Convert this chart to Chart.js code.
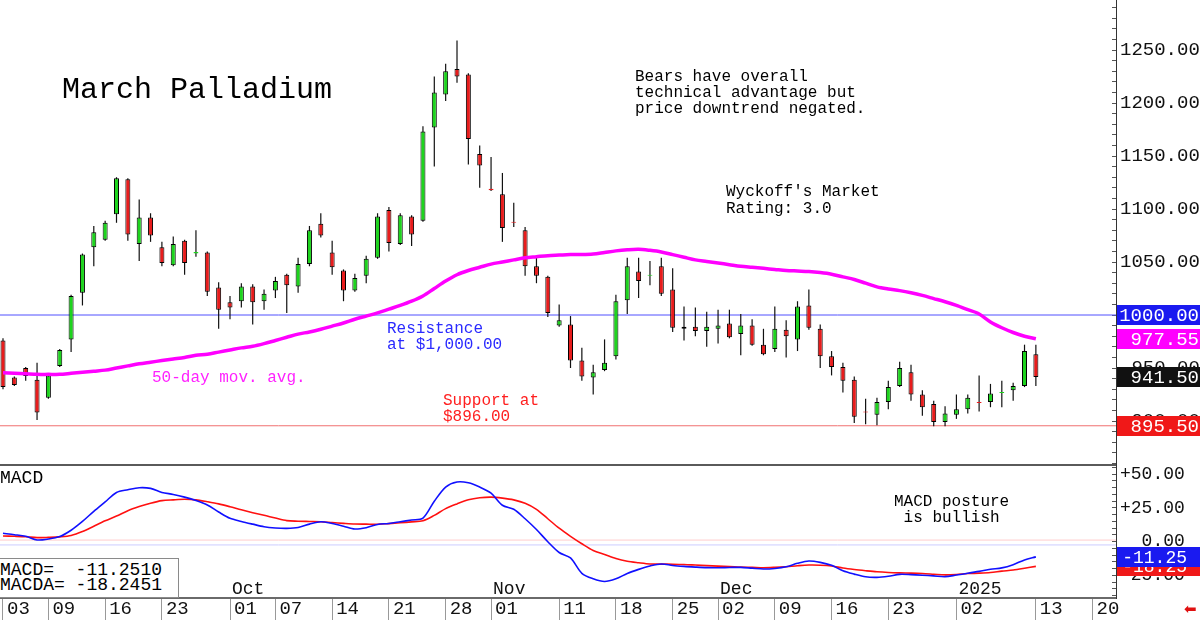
<!DOCTYPE html>
<html>
<head>
<meta charset="utf-8">
<title>March Palladium</title>
<script src="https://cdn.jsdelivr.net/npm/chart.js@4.4.1/dist/chart.umd.min.js"></script>
<style>
  html, body { margin: 0; padding: 0; background: #fff; }
  #wrap { position: relative; width: 1200px; height: 620px; overflow: hidden; font-family: "Liberation Mono", monospace; }
  #priceChart { position: absolute; left: 0; top: 0; }
  #macdChart { position: absolute; left: 0; top: 466px; }
  .txt { position: absolute; white-space: pre; font-size: 16px; line-height: 16.2px; color: #000; }
  #sep { position: absolute; left: 0; top: 464px; width: 1116px; height: 2px; background: #5a5a5a; }
  #macdBox { position: absolute; left: -1px; top: 558px; width: 180px; height: 40px; border: 1px solid #8a8a8a; background: #fff; box-sizing: border-box; }
  #arrow { position: absolute; left: 1184px; top: 600px; font-family: "DejaVu Sans", sans-serif; font-size: 15px; color: #e01010; }
</style>
</head>
<body>
<div id="wrap">
  <canvas id="priceChart" width="1200" height="466"></canvas>
  <canvas id="macdChart" width="1200" height="154"></canvas>
  <div id="sep"></div>

  <div class="txt" style="left:62px;top:75px;font-size:30px;line-height:30px;">March Palladium</div>
  <div class="txt" style="left:635px;top:69px;">Bears have overall
technical advantage but
price downtrend negated.</div>
  <div class="txt" style="left:726px;top:184px;line-height:16.6px;">Wyckoff's Market
Rating: 3.0</div>
  <div class="txt" style="left:387px;top:321px;color:#2a2aff;line-height:16px;">Resistance
at $1,000.00</div>
  <div class="txt" style="left:443px;top:393px;color:#ff2020;line-height:16px;">Support at
$896.00</div>
  <div class="txt" style="left:152px;top:370px;color:#ff22ff;">50-day mov. avg.</div>

  <div class="txt" style="left:0px;top:469px;font-size:18px;line-height:18px;">MACD</div>
  <div class="txt" style="left:894px;top:494px;line-height:16.4px;">MACD posture
 is bullish</div>
  <div id="macdBox">
    <div class="txt" style="left:0px;top:4px;font-size:18px;line-height:15px;">MACD=  -11.2510
MACDA= -18.2451</div>
  </div>
  <div id="arrow">⬅</div>
</div>

<script>
// Trading-day index 0 = Sep 03 2024, last bar (91) = Jan 13 2025
const opens  = [976, 941, 950, 939, 922, 952, 977, 1021, 1064, 1071, 1095, 1128, 1067, 1092, 1064, 1047, 1070, 1058, 1059, 1026,
                1012, 1013, 1027, 1013, 1023, 1038, 1027, 1048, 1086, 1059, 1042, 1023, 1037, 1054, 1099, 1067, 1093, 1089, 1177, 1208,
                1232, 1227, 1152, 1119, 1114, 1088, 1080, 1046, 1036, 990, 991, 957, 941, 948, 961, 1014, 1041, 1037, 1046, 1024,
                987, 989, 985, 987, 992, 982, 990, 972, 968, 986, 977, 1009, 987, 961, 951, 939, 909, 906, 918, 933,
                946, 925, 916, 899, 906, 911, 918, 918, 926.5, 929, 933, 963];
const highs  = [978, 942, 951, 955, 945, 968, 1019, 1058, 1084, 1089, 1130, 1129, 1109, 1096, 1069, 1074, 1071, 1080, 1060, 1031,
                1018, 1030, 1029, 1024, 1036, 1039, 1054, 1084, 1096, 1070, 1043, 1039, 1056, 1096, 1102, 1096, 1094, 1178, 1225, 1237,
                1259, 1228, 1160, 1149, 1134, 1106, 1083, 1054, 1037, 1010, 999, 969, 953, 977, 1019, 1054, 1054, 1051, 1054, 1044,
                1008, 1007, 1003, 1005, 1005, 1001, 996, 987, 1008, 995, 1013, 1024, 991, 966, 955, 942, 921, 922, 938, 956,
                953, 929, 919, 914, 925, 925, 943, 935, 938, 936, 972, 972];
const lows   = [930, 933, 938, 901, 921, 951, 965, 1009, 1046, 1070, 1087, 1070, 1051, 1069, 1046, 1046, 1038, 1055, 1018, 987,
                996, 1007, 991, 1005, 1016, 1002, 1021, 1046, 1073, 1038, 1013, 1022, 1030, 1053, 1060, 1066, 1065, 1088, 1140, 1202,
                1219, 1142, 1120, 1117, 1069, 1083, 1037, 1030, 998, 989, 950, 938, 925, 947, 958, 1001, 1016, 1028, 1018, 984,
                976, 980, 970, 973, 978, 962, 971, 962, 965, 960, 966, 986, 950, 943, 927, 898, 897, 896, 911, 932,
                919, 905, 895, 895, 902, 907, 909, 913, 913, 919, 932, 933];
const closes = [932, 934, 942.5, 908, 943, 967, 1018, 1057, 1078, 1087, 1129, 1076, 1092, 1075, 1049, 1067, 1049, 1059.5, 1022, 1005,
                1007, 1027, 1012, 1020, 1032, 1028, 1048, 1080, 1075, 1045, 1023, 1035, 1053, 1093, 1068, 1094, 1076, 1173, 1210, 1230,
                1225, 1166, 1141, 1117.8, 1082, 1087, 1046, 1037, 1002, 995, 957, 942, 946, 955, 1013, 1046, 1032, 1038, 1020, 988,
                989, 985, 989, 990, 979, 990, 972, 963, 987, 980, 1008, 988, 961, 951, 938, 904, 908, 918, 932, 950,
                925, 913, 899, 907, 911, 922, 917, 926, 927.3, 933, 966, 941.5];

// 50-day moving average
const ma50 = [945.5, 945, 944.5, 944, 944, 944, 945, 946, 947, 948, 950, 952, 954, 955.5, 957, 958.5, 960, 962, 963, 965,
              967, 969, 970.5, 973, 976, 979, 982, 984, 986.5, 989.5, 992.5, 996, 999, 1002, 1005.5, 1009, 1013, 1018, 1025, 1032,
              1038, 1042, 1045, 1048, 1050, 1052, 1054, 1055, 1056, 1056.5, 1057, 1057, 1057.5, 1059, 1060.5, 1061.5, 1062, 1061, 1059.5, 1057,
              1054.5, 1052, 1050.5, 1049, 1047.5, 1046, 1045, 1044, 1043, 1042, 1041.5, 1041, 1040, 1038.5, 1036, 1033.5, 1030, 1026.5, 1024.5, 1023,
              1021, 1018.5, 1015.5, 1012.5, 1009, 1005, 1001, 993.5, 988, 983.5, 980, 977.55];

// MACD and its signal (MACDA)
const macd = [6.2, 5.2, 4.0, 1.3, 2.0, 3.8, 8.5, 15, 22.5, 29.5, 36.5, 38.5, 40, 39.5, 36.5, 35, 33, 30.5, 27.2, 22,
              17.3, 15, 13, 11.1, 10.2, 9.9, 10.5, 13, 14.8, 13.5, 11.5, 9.4, 10.4, 12.8, 13.5, 14.8, 16.1, 17.5, 30, 40.5,
              44.2, 43.6, 40.5, 36, 27, 24, 17, 9, 0, -8, -12, -23.4, -27.5, -29.5, -27.5, -23.5, -20.5, -18, -16.5, -17.6,
              -18.3, -18.8, -19.2, -19.3, -19.1, -19, -19.6, -20.2, -19.8, -18.6, -16, -14.3, -15.3, -17.5, -21.5, -24, -26, -26.4, -25.6, -24.2,
              -24.4, -24.8, -25.3, -25.9, -24.7, -23.4, -22, -20.4, -19.4, -17, -13.5, -11.25];
const macdSignal = [4.2, 4.0, 3.7, 3.0, 3.2, 3.6, 4.6, 7.5, 11.5, 15.5, 19, 23, 26, 28.5, 30.4, 31, 31.4, 31, 29.6, 28,
                    25.9, 23.6, 21.5, 19.6, 17.5, 15.6, 15.2, 15, 14.8, 14.2, 13.6, 13.1, 13, 12.9, 13.4, 14, 14.7, 15.5, 19.5, 24.5,
                    28, 31, 32.5, 33, 32.3, 31, 28.5, 24, 17, 10, 4, -1.5, -6.5, -9.5, -12.5, -14.5, -15.6, -16.5, -16.6, -16.7,
                    -16.9, -17.3, -17.7, -18.1, -18.4, -18.8, -19, -19.3, -19, -18.5, -17.8, -17.3, -17.4, -18, -19.5, -20.6, -21.5, -22.3, -22.8, -23.1,
                    -23.3, -23.6, -24.1, -24.6, -24.3, -23.6, -23.3, -22.8, -21.8, -21, -19.7, -18.25];

// Reference levels
const resistanceLevel = 1000;
const supportLevel = 895.5;
const macdRefLevels = [1.2, -2.4];

// Axis ticks and labels
const priceTicks = [900, 950, 1000, 1050, 1100, 1150, 1200, 1250];
const priceTickLabels = [" 900.00", " 950.00", "1000.00", "1050.00", "1100.00", "1150.00", "1200.00", "1250.00"];
const macdTicks = [-25, 0, 25, 50];
const macdTickLabels = ["-25.00", "  0.00", "+25.00", "+50.00"];
const dateTickIdx = [0, 4, 9, 14, 20, 24, 29, 34, 39, 43, 49, 54, 59, 63, 68, 73, 78, 84, 91, 96];
const dateTickLabels = ["03", "09", "16", "23", "01", "07", "14", "21", "28", "01", "11", "18", "25", "02", "09", "16", "23", "02", "13", "20"];
const monthIdx = [20, 43, 63, 84];
const monthLabels = ["Oct", "Nov", "Dec", "2025"];

// Value flags on the right axis
const priceFlagValues = [1000.00, 977.55, 941.50, 895.50];
const priceFlagLabels = ["1000.00", "977.55", "941.50", "895.50"];
const macdFlagValues = [-18.2451, -11.2510];
const macdFlagLabels = ["-18.25", "-11.25"];

// Styling
const GREEN = "#1ed41e";
const RED = "#e81c1c";
const priceFlagColors = ["#1a1af0", "#ff00ff", "#111111", "#f01818"];
const macdFlagColors = ["#f01818", "#1a1af0"];
const FONT = "Liberation Mono";

// x range shared by both panels (trading-day index)
const xMin = -0.264;
const xMax = 98.06;
const priceMin = 857.55;
const priceMax = 1297.17;
const macdMin = -41.7;
const macdMax = 56.07;

const bodyColors = opens.map((o, i) => closes[i] >= o ? GREEN : RED);
const bodyBorders = opens.map((o, i) => Math.abs(closes[i] - o) < 2 ? bodyColors[i] : "#000");

// Draws the coloured value boxes over the right axis
function flagPlugin(id, values, labels, colors, rightX, fontSize) {
  return {
    id: id,
    afterDraw(chart) {
      const ctx = chart.ctx;
      const yScale = chart.scales.y;
      ctx.save();
      ctx.letterSpacing = "0px";
      values.forEach((v, i) => {
        const y = yScale.getPixelForValue(v);
        ctx.fillStyle = colors[i];
        ctx.fillRect(1117, Math.round(y) - 10, 83, 20);
        ctx.fillStyle = "#fff";
        ctx.font = fontSize + "px '" + FONT + "'";
        ctx.textAlign = "right";
        ctx.textBaseline = "middle";
        ctx.fillText(labels[i], rightX, y + 1);
      });
      ctx.restore();
    }
  };
}

// Month names inside the MACD panel
const monthPlugin = {
  id: "months",
  afterDatasetsDraw(chart) {
    const ctx = chart.ctx;
    const xScale = chart.scales.x;
    ctx.save();
    ctx.font = "18px '" + FONT + "'";
    ctx.fillStyle = "#111";
    ctx.textAlign = "left";
    ctx.textBaseline = "alphabetic";
    monthIdx.forEach((v, i) => {
      ctx.fillText(monthLabels[i], xScale.getPixelForValue(v) + 2, chart.chartArea.bottom - 4);
    });
    ctx.restore();
  }
};

function minorTicks(from, to, step) {
  const t = [];
  for (let v = from; v <= to; v += step) t.push({ value: v });
  return t;
}

// Price panel
new Chart(document.getElementById("priceChart"), {
  type: "bar",
  data: {
    datasets: [
      {
        type: "line",
        label: "50-day",
        data: ma50.map((v, i) => ({ x: i, y: v })),
        borderColor: "#ff00ff",
        borderWidth: 3.5,
        pointRadius: 0,
        tension: 0.3,
        order: 0
      },
      {
        type: "line",
        label: "Resistance",
        data: [{ x: -1, y: resistanceLevel }, { x: 99, y: resistanceLevel }],
        borderColor: "#5050ff",
        borderWidth: 1,
        pointRadius: 0,
        order: 4
      },
      {
        type: "line",
        label: "Support",
        data: [{ x: -1, y: supportLevel }, { x: 99, y: supportLevel }],
        borderColor: "#f07070",
        borderWidth: 1,
        pointRadius: 0,
        order: 4
      },
      {
        label: "Wick",
        data: highs.map((h, i) => ({ x: i, y: [lows[i], h] })),
        backgroundColor: "#111",
        borderWidth: 0,
        grouped: false,
        maxBarThickness: 1.2,
        order: 2
      },
      {
        label: "Body",
        data: opens.map((o, i) => ({ x: i, y: [o, closes[i]] })),
        backgroundColor: bodyColors,
        borderColor: bodyBorders,
        borderWidth: 1,
        borderSkipped: false,
        grouped: false,
        maxBarThickness: 5,
        order: 1
      }
    ]
  },
  options: {
    responsive: false,
    animation: false,
    layout: { padding: 0 },
    plugins: { legend: { display: false }, tooltip: { enabled: false } },
    scales: {
      x: {
        type: "linear",
        display: false,
        min: xMin,
        max: xMax,
        offset: false
      },
      y: {
        position: "right",
        min: priceMin,
        max: priceMax,
        afterBuildTicks: s => { s.ticks = minorTicks(860, 1290, 10); },
        afterFit: s => { s.width = 84; s.paddingTop = 0; s.paddingBottom = 0; },
        ticks: {
          autoSkip: false,
          padding: 8,
          color: "#111",
          font: { family: FONT, size: 19 },
          callback: v => {
            const k = priceTicks.indexOf(v);
            return k < 0 ? "" : priceTickLabels[k];
          }
        },
        grid: { drawOnChartArea: false, tickLength: -4, color: "#555" },
        border: { color: "#333", width: 1 }
      }
    }
  },
  plugins: [flagPlugin("priceFlags", priceFlagValues, priceFlagLabels, priceFlagColors, 1199, 19)]
});

// MACD panel
new Chart(document.getElementById("macdChart"), {
  type: "line",
  data: {
    datasets: [
      {
        label: "MACD zero",
        data: [{ x: -1, y: macdRefLevels[0] }, { x: 99, y: macdRefLevels[0] }],
        borderColor: "#ffcccc",
        borderWidth: 1,
        pointRadius: 0,
        order: 3
      },
      {
        label: "MACDA zero",
        data: [{ x: -1, y: macdRefLevels[1] }, { x: 99, y: macdRefLevels[1] }],
        borderColor: "#ccccff",
        borderWidth: 1,
        pointRadius: 0,
        order: 3
      },
      {
        label: "MACDA",
        data: macdSignal.map((v, i) => ({ x: i, y: v })),
        borderColor: "#ff1010",
        borderWidth: 1.6,
        pointRadius: 0,
        tension: 0.3,
        order: 2
      },
      {
        label: "MACD",
        data: macd.map((v, i) => ({ x: i, y: v })),
        borderColor: "#1010ff",
        borderWidth: 1.6,
        pointRadius: 0,
        tension: 0.3,
        order: 1
      }
    ]
  },
  options: {
    responsive: false,
    animation: false,
    layout: { padding: 0 },
    plugins: { legend: { display: false }, tooltip: { enabled: false } },
    scales: {
      x: {
        type: "linear",
        min: xMin,
        max: xMax,
        offset: false,
        afterBuildTicks: s => { s.ticks = dateTickIdx.map(v => ({ value: v })); },
        afterFit: s => { s.height = 22; s.paddingLeft = 0; s.paddingRight = 0; },
        ticks: {
          autoSkip: false,
          maxRotation: 0,
          align: "start",
          labelOffset: 4,
          padding: -22,
          color: "#111",
          font: { family: FONT, size: 19 },
          callback: v => dateTickLabels[dateTickIdx.indexOf(v)]
        },
        grid: { drawOnChartArea: false, tickLength: 22, color: "#999" },
        border: { color: "#6a6a6a", width: 2 }
      },
      y: {
        position: "right",
        min: macdMin,
        max: macdMax,
        afterBuildTicks: s => { s.ticks = minorTicks(-40, 55, 5); },
        afterFit: s => { s.width = 84; s.paddingTop = 0; s.paddingBottom = 0; },
        ticks: {
          autoSkip: false,
          padding: 8,
          color: "#111",
          font: { family: FONT, size: 18 },
          callback: v => {
            const k = macdTicks.indexOf(v);
            return k < 0 ? "" : macdTickLabels[k];
          }
        },
        grid: { drawOnChartArea: false, tickLength: -4, color: "#555" },
        border: { color: "#333", width: 1 }
      }
    }
  },
  plugins: [monthPlugin, flagPlugin("macdFlags", macdFlagValues, macdFlagLabels, macdFlagColors, 1187, 18)]
});
</script>
</body>
</html>
